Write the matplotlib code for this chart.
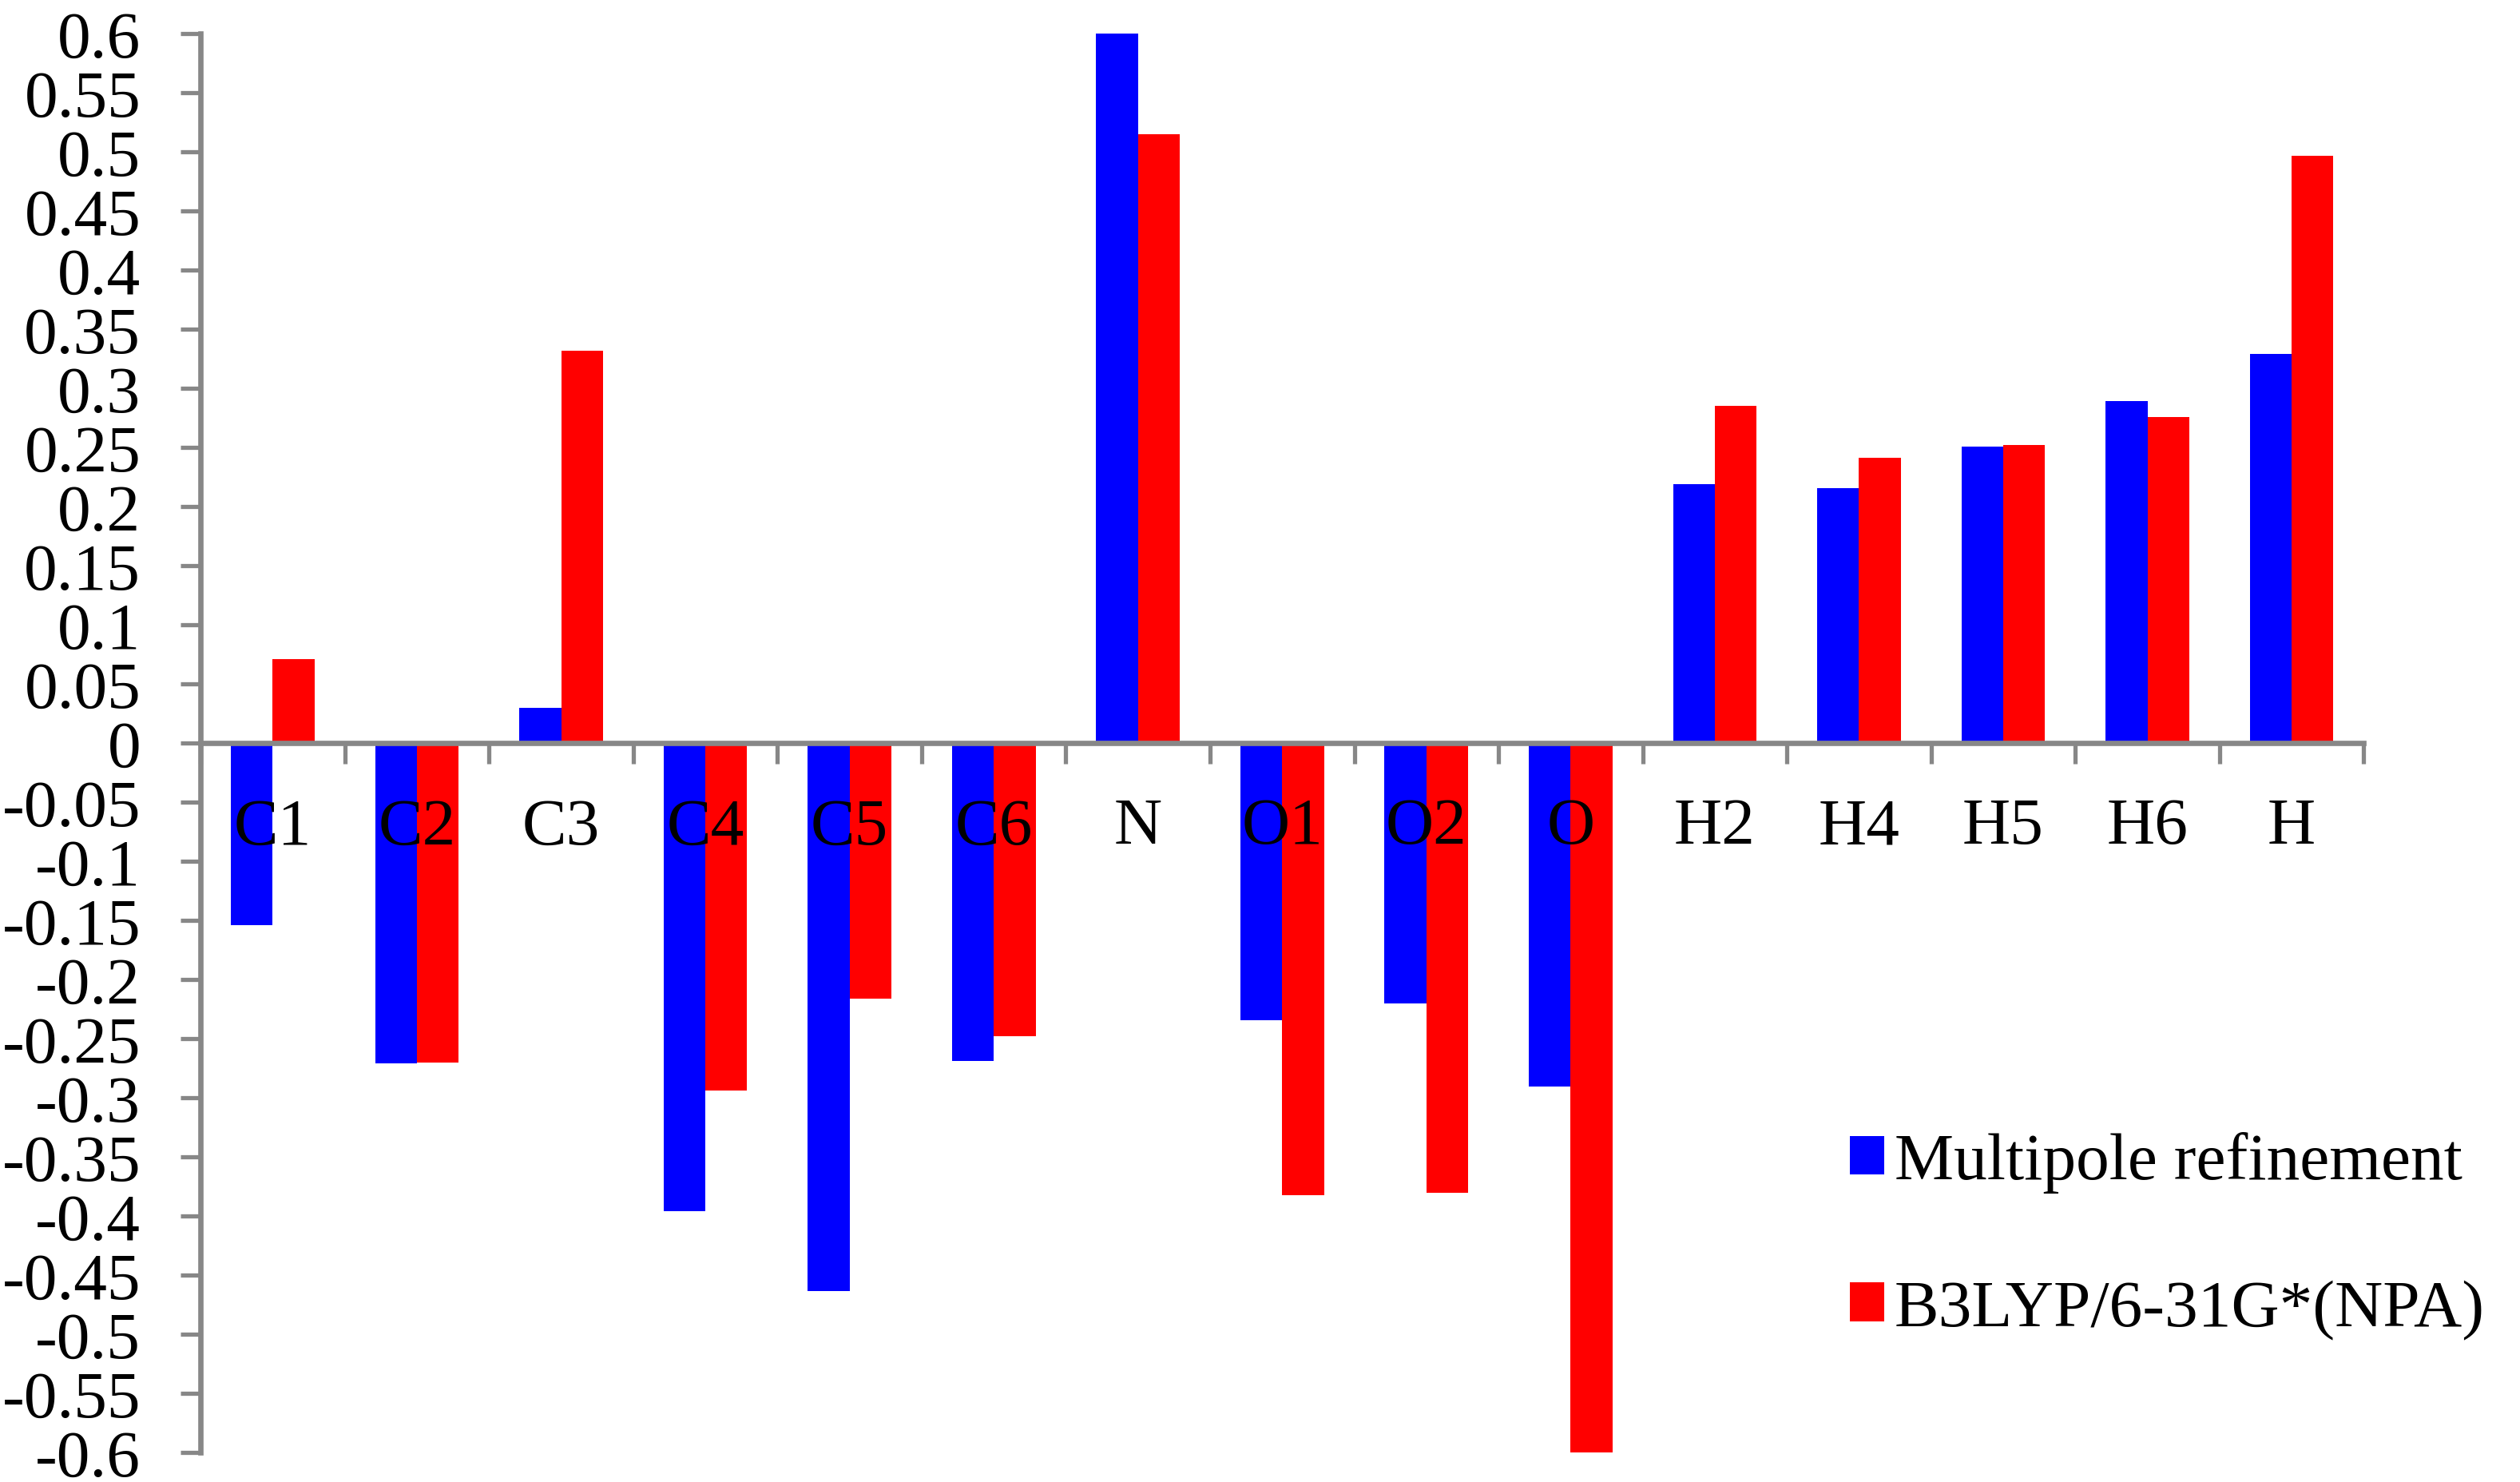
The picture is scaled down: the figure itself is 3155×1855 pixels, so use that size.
import numpy as np
import matplotlib.pyplot as plt
from matplotlib.ticker import FixedLocator, FuncFormatter

# atom labels and charges
atoms = ['C1', 'C2', 'C3', 'C4', 'C5', 'C6', 'N', 'O1', 'O2', 'O',
         'H2', 'H4', 'H5', 'H6', 'H']
multipole = [-0.154, -0.271, 0.030, -0.396, -0.463, -0.269, 0.600, -0.234,
             -0.220, -0.290, 0.219, 0.216, 0.251, 0.289, 0.329]
b3lyp = [0.071, -0.270, 0.332, -0.294, -0.216, -0.248, 0.515, -0.382,
         -0.380, -0.604, 0.285, 0.241, 0.252, 0.276, 0.497]
series_names = ['Multipole refinement', 'B3LYP/6-31G*(NPA)']
yticks = np.round(np.arange(-0.6, 0.601, 0.05), 2)

plt.rcParams['font.family'] = ['Liberation Serif', 'DejaVu Serif']
axis_grey = '#878787'
fs = 30

fig = plt.figure(figsize=(15.775, 9.28), dpi=200)
ax = fig.add_axes([0.0796, 0.0197, 0.8584, 0.9571])

x = np.arange(len(atoms))
w = 0.29
ax.bar(x - w / 2, multipole, w, color='#0000FF', label=series_names[0], zorder=2)
ax.bar(x + w / 2, b3lyp, w, color='#FF0000', label=series_names[1], zorder=2)

ax.set_xlim(-0.5, len(atoms) - 0.5)
ax.set_ylim(-0.6, 0.6)

for s in ['top', 'right']:
    ax.spines[s].set_visible(False)
ax.spines['bottom'].set_position(('data', 0))
for s in ['left', 'bottom']:
    ax.spines[s].set_color(axis_grey)
    ax.spines[s].set_linewidth(2.4)
    ax.spines[s].set_zorder(3)

ax.yaxis.set_major_locator(FixedLocator(yticks))
ax.yaxis.set_major_formatter(FuncFormatter(lambda v, p: f'{round(v, 2) + 0:g}'))
ax.tick_params(axis='y', direction='out', length=9, width=1.9, color=axis_grey,
               labelsize=fs, pad=18)

# category boundary ticks below the axis line, labels set as text
ax.xaxis.set_major_locator(FixedLocator(np.arange(-0.5, len(atoms), 1.0)))
ax.xaxis.set_major_formatter(FuncFormatter(lambda v, p: ''))
ax.tick_params(axis='x', direction='out', length=9.4, width=1.9, color=axis_grey)
for xi, lab in zip(x, atoms):
    ax.text(xi, -0.0845, lab, ha='center', va='baseline', fontsize=fs, zorder=4)

leg = fig.legend(loc='center left', bbox_to_anchor=(0.734, 0.166), frameon=False,
                 fontsize=fs, handlelength=0.52, handleheight=0.52,
                 handletextpad=0.15, labelspacing=1.3, borderpad=0,
                 borderaxespad=0)

fig.savefig('out.png', dpi=200, facecolor='white')
